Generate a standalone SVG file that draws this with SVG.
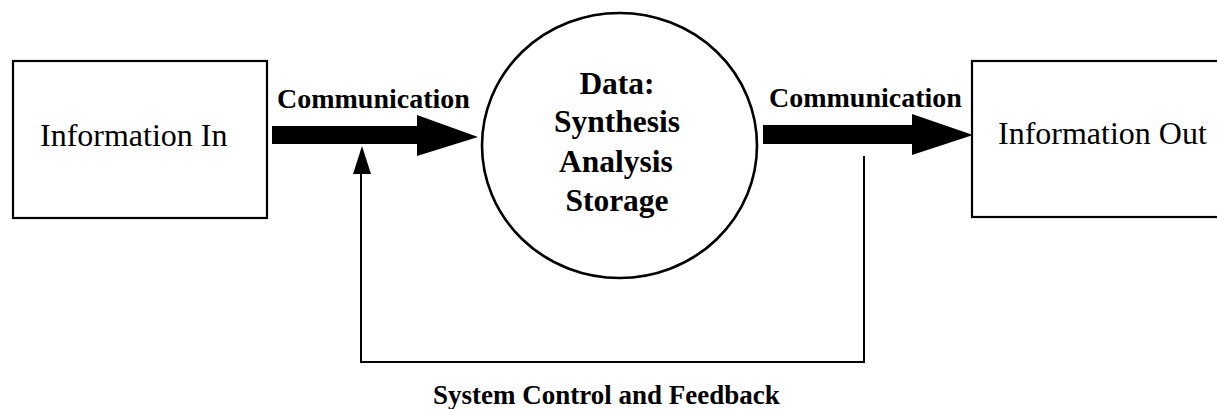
<svg xmlns="http://www.w3.org/2000/svg" width="1217" height="409" viewBox="0 0 1217 409">
  <style>
    .box { fill: #fff; stroke: #000; stroke-width: 2.2; }
    .hub { fill: #fff; stroke: #000; stroke-width: 2.6; }
    .big { fill: #000; stroke: none; }
    .wire { fill: none; stroke: #000; stroke-width: 2; }
    .lbl { font-size: 32px; }
    .bold { font-weight: bold; font-size: 28px; }
    .cap { font-weight: bold; font-size: 27px; }
    .hubtxt { font-weight: bold; font-size: 31.5px; text-anchor: middle; }
  </style>
  <rect width="1217" height="409" fill="#fff"/>

  <g font-family="'Liberation Serif', 'Times New Roman', Times, serif" fill="#000">
    <g id="node-information-in">
      <rect class="box" x="13" y="61" width="254" height="157"/>
      <text class="lbl" x="40" y="146">Information In</text>
    </g>

    <g id="node-data">
      <ellipse class="hub" cx="619.5" cy="145.5" rx="137.5" ry="132.5"/>
      <text class="hubtxt" x="617" y="94">Data:</text>
      <text class="hubtxt" x="617" y="132">Synthesis</text>
      <text class="hubtxt" x="616" y="172">Analysis</text>
      <text class="hubtxt" x="617" y="211">Storage</text>
    </g>

    <g id="node-information-out">
      <rect class="box" x="972" y="61" width="260" height="156"/>
      <text class="lbl" x="998" y="144">Information Out</text>
    </g>

    <g id="connectors">
      <!-- communication in -->
      <polygon class="big" points="272,126 417,126 417,115 478,137 417,156 417,144 272,144"/>
      <text class="bold" x="277" y="108">Communication</text>
      <!-- communication out -->
      <polygon class="big" points="763,125 912,125 912,114 973,135 912,155 912,144 763,144"/>
      <text class="bold" x="769" y="107">Communication</text>
      <!-- feedback loop -->
      <polyline class="wire" points="864,156 864,362 361,362 361,172"/>
      <polygon class="big" points="353,174 371,174 362,146"/>
      <text class="cap" x="433" y="404">System Control and Feedback</text>
    </g>
  </g>
</svg>
